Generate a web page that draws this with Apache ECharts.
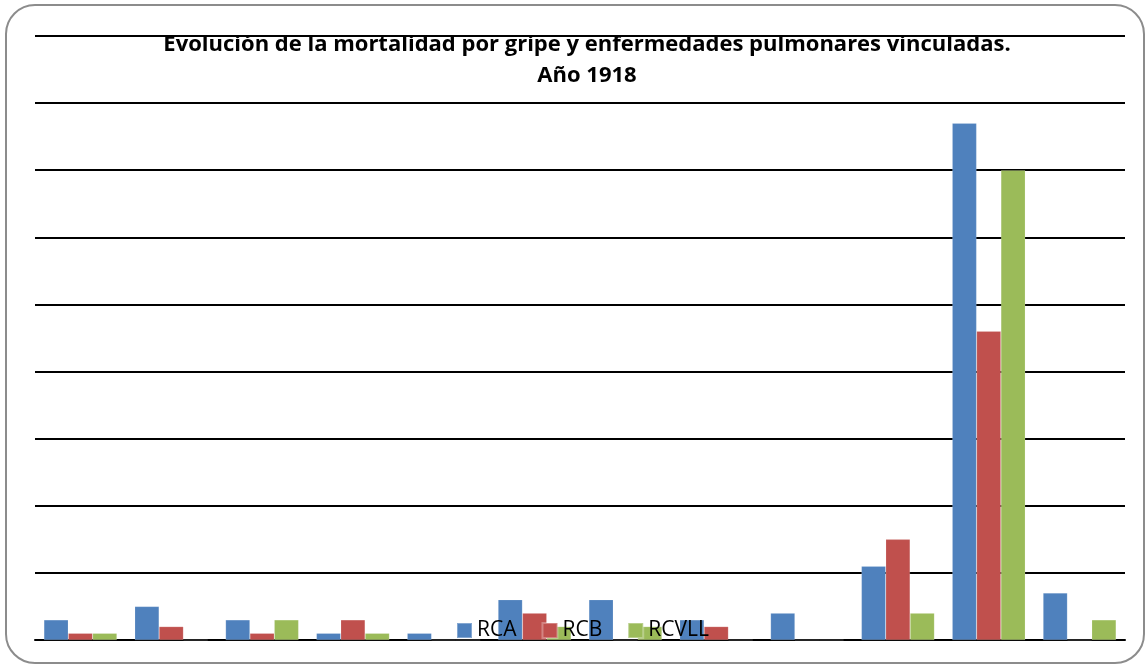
<!DOCTYPE html>
<html>
<head>
<meta charset="utf-8">
<script src="https://cdn.jsdelivr.net/npm/echarts@6/dist/echarts.min.js"></script>
<style>
  html, body { margin: 0; padding: 0; background: #fff; }
  .frame {
    position: absolute; left: 5px; top: 4px; width: 1136px; height: 656px;
    border: 2px solid #8c8c8c; border-radius: 30px; box-sizing: content-box;
  }
  .container { position: absolute; left: 0; top: 0; width: 1148px; height: 668px; }
</style>
</head>
<body>
<div class="frame"></div>
<div class="container" id="container"></div>
<script>
// meses (sin etiquetas visibles en el eje)
var months = ['Ene', 'Feb', 'Mar', 'Abr', 'May', 'Jun', 'Jul', 'Ago', 'Sep', 'Oct', 'Nov', 'Dic'];
var rca   = [3, 5, 3, 1, 1, 6, 6, 3, 4, 11, 77, 7];
var rcb   = [1, 2, 1, 3, 0, 4, 0, 2, 0, 15, 46, 0];
var rcvll = [1, 0, 3, 1, 0, 2, 2, 0, 0, 4, 70, 3];

var myChart = echarts.init(document.getElementById('container'));

function barSeries(name, data, color) {
    return {
        name: name,
        type: 'bar',
        data: data,
        barGap: 0,
        barCategoryGap: '19.6%',
        itemStyle: {
            color: color,
            borderColor: 'rgba(255,255,255,0.3)',
            borderWidth: 0.5
        }
    };
}

var option = {
    animation: false,
    backgroundColor: 'transparent',
    title: {
        text: 'Evolución de la mortalidad por gripe y enfermedades pulmonares vinculadas.\nAño 1918',
        left: 587,
        textAlign: 'center',
        top: 29,
        padding: 0,
        z: 20,
        textStyle: {
            fontFamily: 'Open Sans',
            fontWeight: 'bold',
            fontSize: 22,
            lineHeight: 31,
            color: '#000'
        }
    },
    legend: {
        left: 456,
        top: 620,
        padding: 0,
        itemWidth: 15,
        itemHeight: 15,
        itemGap: 25,
        icon: 'rect',
        textStyle: { fontFamily: 'Open Sans', fontSize: 21, color: '#000' },
        data: ['RCA', 'RCB', 'RCVLL']
    },
    grid: { left: 35, right: 23, top: 36, bottom: 28, containLabel: false },
    xAxis: {
        type: 'category',
        data: months,
        axisLine: { show: true, lineStyle: { color: '#000', width: 2 } },
        axisTick: { show: false },
        axisLabel: { show: false }
    },
    yAxis: {
        type: 'value',
        min: 0,
        max: 90,
        interval: 10,
        axisLine: { show: false },
        axisTick: { show: false },
        axisLabel: { show: false },
        splitLine: { show: true, lineStyle: { color: '#000', width: 2 } }
    },
    series: [
        barSeries('RCA', rca, '#4F81BD'),
        barSeries('RCB', rcb, '#C0504D'),
        barSeries('RCVLL', rcvll, '#9BBB59')
    ]
};

myChart.setOption(option);
</script>
</body>
</html>
